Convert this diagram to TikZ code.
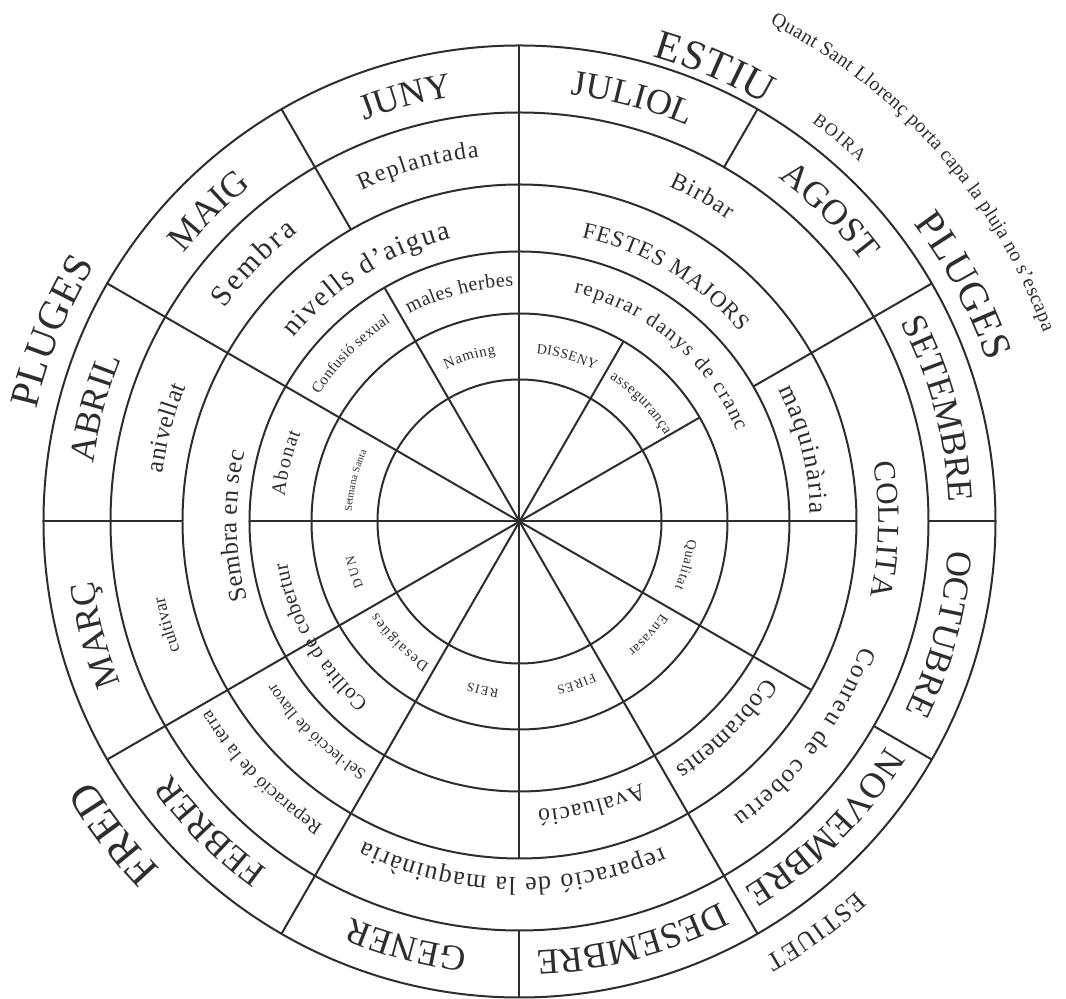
\documentclass[tikz,border=0pt]{standalone}
\usepackage{fontspec}
\setmainfont{Liberation Serif}
\usetikzlibrary{decorations.text}
\definecolor{ink}{RGB}{45,45,45}
\tikzset{
  ring/.style={draw=ink,line width=1pt},
  spoke/.style={draw=ink,line width=1pt},
}
% text set clockwise along an arc: [align]{radius}{from}{to}{size}{text}
\newcommand\arclabel[6][fit to path]{%
  \path[decorate,decoration={text along path,text color=ink,text align=#1,
      text={|\fontsize{#5}{#5}\selectfont|#6}}]
    (#3:#2) arc[start angle=#3,end angle=#4,radius=#2];}

\begin{document}
\begin{tikzpicture}[x=0.5pt,y=0.5pt]
  \useasboundingbox (-519.5,-477.5) rectangle (546.5,521.5);
  % rings and spokes
  \foreach \r in {142,208,270,337,409,476}
    \draw[ring] (0,0) circle[radius=\r];
  \foreach \a in {90,150,210,240,300}
    \draw[spoke] (0,0) -- (\a:476);
  \foreach \a/\i/\o in {0/337/409,270/337/409,330/337/409,120/270/337,
                        180/270/337,30/208/270,60/208/409}
    \draw[spoke] (0,0) -- (\a:\i) (\a:\o) -- (\a:476);
  % months
  \arclabel[center]{430}{120}{90}{18}{JUNY}
  \arclabel[center]{430}{90}{60}{18}{JULIOL}
  \arclabel[center]{430}{60}{30}{18}{AGOST}
  \arclabel[center]{430}{30}{0}{18}{SETEMBRE}
  \arclabel[center]{430}{0}{-30}{18}{OCTUBRE}
  \arclabel[center]{430}{-30}{-60}{18}{NOVEMBRE}
  \arclabel[center]{430}{-60}{-90}{18}{DESEMBRE}
  \arclabel[center]{430}{-90}{-120}{18}{GENER}
  \arclabel[center]{430}{-120}{-150}{18}{FEBRER}
  \arclabel[center]{430}{-150}{-180}{18}{MARÇ}
  \arclabel[center]{430}{180}{150}{18}{ABRIL}
  \arclabel[center]{430}{150}{120}{18}{MAIG}
  % fourth ring
  \arclabel{367}{115.5}{96.3}{12}{Replantada}
  \arclabel{367}{66}{55.3}{12}{Birbar}
  \arclabel{364}{144.2}{127.5}{15}{Sembra}
  \arclabel{360}{172.3}{158}{12.5}{anivellat}
  \arclabel{363}{200.8}{192}{9}{cultivar}
  \arclabel{362}{237.1}{211.2}{9.5}{Reparació de la terra}
  \arclabel{356}{-66.3}{-115.9}{13}{reparació de la maquinària}
  \arclabel{364}{-20.1}{-54}{12.5}{Conreu de cobertu}
  \arclabel{359}{9.5}{-12}{15.5}{COLLITA}
  % third ring
  \arclabel{291}{27}{1.5}{13}{maquinària}
  \arclabel{291}{77.7}{40.6}{11.5}{FESTES MAJORS}
  \arclabel{291}{140.9}{103.6}{14}{nivells d’aigua}
  \arclabel{283}{196}{165.8}{12.5}{Sembra en sec}
  \arclabel{293}{238.6}{213.6}{8.3}{Sel·lecció de llavor}
  \arclabel{291}{-32.3}{-57.7}{12.5}{Cobraments}
  \arclabel{289}{-65}{-86.4}{12}{Avaluació}
  % second ring
  \arclabel{235}{118}{91.5}{10}{males herbes}
  \arclabel{235}{76.6}{22.5}{10.5}{reparar danys de cranc}
  \arclabel{237}{147.7}{122.9}{7.7}{Confusió sexual}
  \arclabel{236}{174}{158}{10}{Abonat}
  \arclabel{236}{-129.8}{-170}{10.5}{Collita de cobertur}
  % first ring
  \arclabel{169}{115.7}{98.1}{7.5}{Naming}
  \arclabel{169}{84.3}{63.5}{7}{DISSENY}
  \arclabel{169}{57.8}{30.7}{7.5}{assegurança}
  \arclabel{169}{-6.1}{-23.1}{7}{Qualitat}
  \arclabel{169}{-33}{-50}{7}{Envasar}
  \arclabel{169}{-64}{-77.3}{6.5}{FIRES}
  \arclabel{169}{-97}{-107.6}{6.5}{REIS}
  \arclabel{169}{-122.2}{-147.2}{7.5}{Desaigües}
  \arclabel{169}{-157.5}{-168.3}{6.5}{DUN}
  \arclabel{168}{176.7}{155.3}{5.2}{Setmana Santa}
  % outside the wheel
  \arclabel{484}{74}{59.5}{21}{ESTIU}
  \arclabel{494}{37.1}{18.9}{20.5}{PLUGES}
  \arclabel{496}{167}{148.8}{20.5}{PLUGES}
  \arclabel{500}{-135.9}{-148.9}{22}{FRED}
  \arclabel{500}{-47.7}{-60.6}{13}{ESTIUET}
  \arclabel{495}{53.8}{46.6}{9}{BOIRA}
  \arclabel{557}{63.3}{19.9}{10}{Quant Sant Llorenç porta capa la pluja no s’escapa}
\end{tikzpicture}
\end{document}
